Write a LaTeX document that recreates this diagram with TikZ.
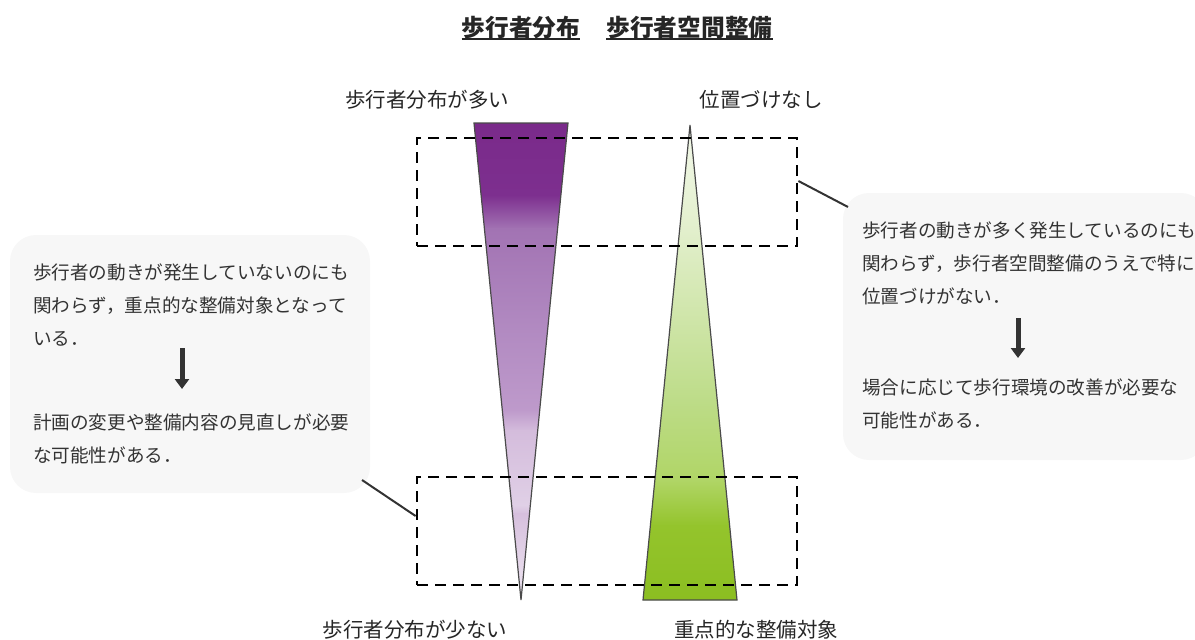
\documentclass[tikz,border=0pt]{standalone}
\usepackage{fontspec}
\setmainfont{Noto Sans CJK JP}
\usetikzlibrary{arrows.meta}
\definecolor{boxgray}{HTML}{F7F7F7}
\definecolor{txt}{HTML}{333333}
\definecolor{edge}{HTML}{4A4A4A}
\definecolor{pA}{HTML}{7A2A8A}
\definecolor{pB}{HTML}{7D2F8F}
\definecolor{pC}{HTML}{A273B3}
\definecolor{pD}{HTML}{B088C0}
\definecolor{pE}{HTML}{BE9ACB}
\definecolor{pF}{HTML}{D4BCDC}
\definecolor{pG}{HTML}{E0D0E6}
\definecolor{pH}{HTML}{D6BFDD}
\definecolor{pI}{HTML}{F0E8F3}
\definecolor{gA}{HTML}{F4F9EC}
\definecolor{gB}{HTML}{E2EFCC}
\definecolor{gC}{HTML}{BDDC88}
\definecolor{gD}{HTML}{B0D566}
\definecolor{gE}{HTML}{94C42C}
\definecolor{gF}{HTML}{8BBE21}
\tikzset{
  dashbox/.style={draw=black, line width=2.8pt, dash pattern=on 11pt off 7pt, minimum width=380pt, minimum height=108pt, inner sep=0pt},
  notebox/.style={fill=boxgray, rounded corners=26pt, inner sep=0pt},
  body/.style={text=txt, font=\fontsize{18.6}{33}\selectfont, align=left, inner sep=0pt, anchor=west},
  lbl/.style={text=black!85, font=\fontsize{20.5}{24}\selectfont, inner sep=0pt},
  ttl/.style={text=black!85, font=\fontsize{23.7}{28}\selectfont\bfseries, inner sep=0pt},
  fat/.style={draw=txt, line width=5pt, -{Triangle[width=14pt,length=10pt]}},
  link/.style={draw=txt, line width=2pt},
  tri/.style={draw=edge, line width=1.2pt, line join=miter}
}
\begin{document}
\begin{tikzpicture}[x=1pt,y=-1pt]
\useasboundingbox (0,0) rectangle (1195,640);
% title
\node[ttl] (t1) at (521,27.5) {歩行者分布};
\node[ttl] (t2) at (689.5,27.5) {歩行者空間整備};
\draw[line width=1.8pt, black!85] ([yshift=-11.5pt]t1.west) -- ([yshift=-11.5pt]t1.east);
\draw[line width=1.8pt, black!85] ([yshift=-11.5pt]t2.west) -- ([yshift=-11.5pt]t2.east);
% labels
\node[lbl] (l1) at (427,100) {歩行者分布が多い};
\node[lbl] (l2) at (761,100) {位置づけなし};
\node[lbl] (l3) at (415,630) {歩行者分布が少ない};
\node[lbl] (l4) at (756,630) {重点的な整備対象};
% purple triangle
\begin{scope}
\clip (474,123) -- (568,123) -- (521,600) -- cycle;
\shade[top color=pA, bottom color=pB] (460,120) rectangle (580,196);
\shade[top color=pB, bottom color=pC] (460,195) rectangle (580,229);
\shade[top color=pC, bottom color=pD] (460,228) rectangle (580,321);
\shade[top color=pD, bottom color=pE] (460,320) rectangle (580,411);
\shade[top color=pE, bottom color=pF] (460,410) rectangle (580,431);
\shade[top color=pF, bottom color=pG] (460,430) rectangle (580,506);
\shade[top color=pG, bottom color=pH] (460,505) rectangle (580,514);
\shade[top color=pH, bottom color=pI] (460,513) rectangle (580,602);
\end{scope}
\draw[tri] (474,123) -- (568,123) -- (521,600) -- cycle;
% green triangle
\begin{scope}
\clip (690,125) -- (737,600) -- (643,600) -- cycle;
\shade[top color=gA, bottom color=gB] (630,120) rectangle (750,231);
\shade[top color=gB, bottom color=gC] (630,230) rectangle (750,401);
\shade[top color=gC, bottom color=gD] (630,400) rectangle (750,481);
\shade[top color=gD, bottom color=gE] (630,480) rectangle (750,526);
\shade[top color=gE, bottom color=gF] (630,525) rectangle (750,602);
\end{scope}
\draw[tri] (690,125) -- (737,600) -- (643,600) -- cycle;
% dashed frames
\node[dashbox] (top) at (607,192) {};
\node[dashbox] (bot) at (607,531) {};
% note boxes
\node[notebox, minimum width=360pt, minimum height=258pt] (lbox) at (190,364) {};
\node[notebox, minimum width=364pt, minimum height=267pt] (rbox) at (1025,326.5) {};
\node[body] (lp1) at (33,305) {歩行者の動きが発生していないのにも\\関わらず，重点的な整備対象となって\\いる．};
\node[body] (lp2) at (33,438.5) {計画の変更や整備内容の見直しが必要\\な可能性がある．};
\node[body] (rp1) at (862,263) {歩行者の動きが多く発生しているのにも\\関わらず，歩行者空間整備のうえで特に\\位置づけがない．};
\node[body] (rp2) at (862,403.5) {場合に応じて歩行環境の改善が必要な\\可能性がある．};
\coordinate (la1) at (182,348);
\coordinate (la2) at (182,389);
\coordinate (ra1) at (1018,318);
\coordinate (ra2) at (1018,358);
\draw[fat] (la1) -- (la2);
\draw[fat] (ra1) -- (ra2);
% connectors
\coordinate (lc) at (362,480);
\coordinate (rc) at (848,207);
\draw[link] (lc) -- ([yshift=15pt]bot.west);
\draw[link] ([yshift=11pt]top.east) -- (rc);
\end{tikzpicture}
\end{document}
